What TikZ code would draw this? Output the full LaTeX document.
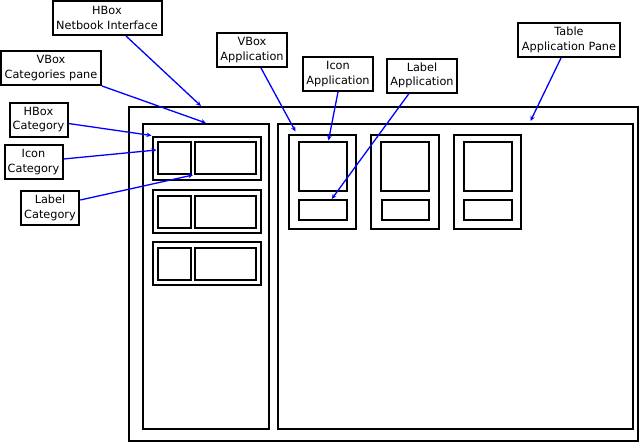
\documentclass[tikz,border=0pt]{standalone}
\usepackage{fontspec}
\setmainfont{DejaVu Sans}
\usetikzlibrary{arrows.meta}

\begin{document}
\begin{tikzpicture}[
  x=1pt, y=-1pt,
  font=\fontsize{11.3}{14.5}\selectfont,
  panel/.style={draw, line width=2pt, anchor=north west, inner sep=0pt},
  tag/.style={draw, line width=2pt, fill=white, align=center, inner sep=1pt, minimum height=34pt},
  pointer/.style={-{Stealth[length=5pt,width=4.5pt]}, blue, line width=1.3pt}
]
\useasboundingbox (0,0) rectangle (640,442);

% containers
\node[panel, minimum width=509pt, minimum height=334pt] (netbook) at (128,106) {};
\node[panel, minimum width=126pt, minimum height=305pt] (catpane) at (142,123) {};
\node[panel, minimum width=355pt, minimum height=305pt] (apppane) at (277,123) {};

% category rows
\foreach \n/\y in {1/135.5,2/189,3/241} {
  \node[panel, minimum width=108pt, minimum height=43pt] (cat\n) at (151.5,\y) {};
  \node[panel, minimum width=33pt, minimum height=32pt] (caticon\n) at (156.5,\y+5.5) {};
  \node[panel, minimum width=61pt, minimum height=32pt] (catlabel\n) at (194,\y+5.5) {};
}

% application boxes
\foreach \n/\x in {1/287.5,2/370,3/452.5} {
  \node[panel, minimum width=67.5pt, minimum height=94pt] (app\n) at (\x,133.5) {};
  \node[panel, minimum width=48pt, minimum height=49pt] (appicon\n) at (\x+10,140.5) {};
  \node[panel, minimum width=47.5pt, minimum height=19.5pt] (applabel\n) at (\x+10.5,199) {};
}

% labels
\node[tag, minimum width=109pt] (netlbl) at (107,18) {HBox\\Netbook Interface};
\node[tag, minimum width=100pt] (catpanelbl) at (51,68) {VBox\\Categories pane};
\node[tag, minimum width=58pt] (hboxcatlbl) at (38.5,119.5) {HBox\\Category};
\node[tag, minimum width=58pt] (iconcatlbl) at (33.5,162) {Icon\\Category};
\node[tag, minimum width=58.5pt] (labelcatlbl) at (50,208) {Label\\Category};
\node[tag, minimum width=70pt] (vboxapplbl) at (252,50) {VBox\\Application};
\node[tag, minimum width=70pt] (iconapplbl) at (338,74) {Icon\\Application};
\node[tag, minimum width=70pt] (labelapplbl) at (422,75.5) {Label\\Application};
\node[tag, minimum width=102pt] (tablelbl) at (569,40) {Table\\Application Pane};

% pointers
\draw[pointer] ([xshift=19pt]netlbl.south) -- ([xshift=73pt]netbook.north west);
\draw[pointer] (catpanelbl.south east) -- (catpane.north);
\draw[pointer] ([yshift=-4pt]hboxcatlbl.east) -- (cat1.north west);
\draw[pointer] ([yshift=3pt]iconcatlbl.east) -- ([yshift=8pt]caticon1.west);
\draw[pointer] ([yshift=8pt]labelcatlbl.east) -- ([xshift=-1pt]catlabel1.south west);
\draw[pointer] ([xshift=9pt]vboxapplbl.south) -- ([xshift=8pt,yshift=2pt]app1.north west);
\draw[pointer] (iconapplbl.south) -- ([xshift=6pt]appicon1.north);
\draw[pointer] ([xshift=-13pt]labelapplbl.south) -- ([xshift=9pt]applabel1.north);
\draw[pointer] ([xshift=-8pt]tablelbl.south) -- ([xshift=75pt,yshift=2pt]apppane.north);
\end{tikzpicture}
\end{document}
